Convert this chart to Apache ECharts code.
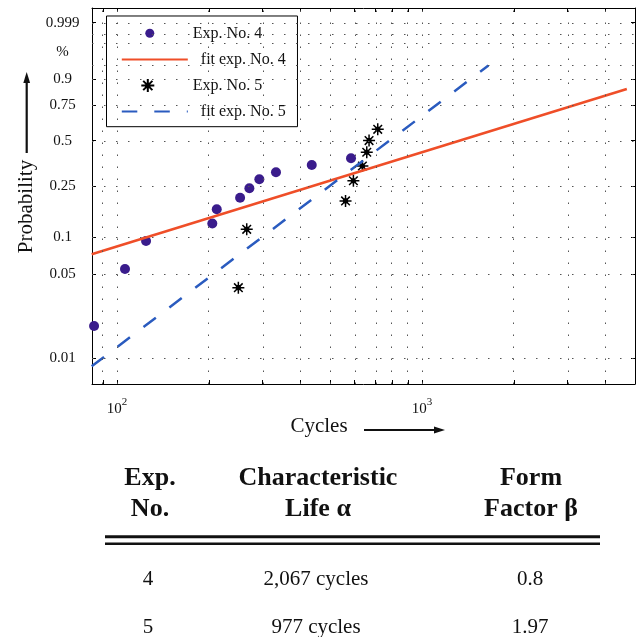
<!DOCTYPE html>
<html>
<head>
<meta charset="utf-8">
<script src="https://cdn.jsdelivr.net/npm/echarts@6/dist/echarts.min.js"></script>
<style>
  html, body { margin: 0; padding: 0; background: #ffffff; }
  #chart { width: 640px; height: 637px; }
</style>
</head>
<body>
<div id="chart"></div>
<script>
// ---------------- data ----------------
const exp4Cycles = [84.1, 106.2, 124.5, 205.3, 212.3, 253.2, 271.6, 292.8, 332.0, 434.9, 584.9];
const exp4Prob   = [0.0186, 0.0553, 0.0935, 0.129, 0.1665, 0.204, 0.240, 0.279, 0.3125, 0.351, 0.389];

const exp5Cycles = [249.9, 266.2, 561.2, 595.5, 637.3, 658.7, 670.2, 715.6];
const exp5Prob   = [0.0388, 0.116, 0.193, 0.272, 0.345, 0.425, 0.501, 0.579];

const fit4Cycles = [82.6, 4690];
const fit4Prob   = [0.073, 0.850];
const fit5Cycles = [82.6, 1650];
const fit5Prob   = [0.0085, 0.950];

const seriesNames = ['Exp. No. 4', 'fit exp. No. 4', 'Exp. No. 5', 'fit exp. No. 5'];

const xTickCycles  = [90, 100, 200, 300, 400, 500, 600, 700, 800, 900, 1000, 2000, 3000, 4000];
const xLabelCycles = [100, 1000];

const yLabelProbs  = [0.01, 0.05, 0.1, 0.25, 0.5, 0.75, 0.9, 0.98, 0.999];
const yLabelTexts  = ['0.01', '0.05', '0.1', '0.25', '0.5', '0.75', '0.9', '%', '0.999'];
const yTickProbs   = [0.01, 0.05, 0.1, 0.25, 0.5, 0.75, 0.9, 0.999];
const yGridProbs   = [0.01, 0.05, 0.1, 0.25, 0.5, 0.75, 0.9, 0.95, 0.99, 0.996, 0.999];

const tableHeaders = [['Exp.', 'No.'], ['Characteristic', 'Life \u03b1'], ['Form', 'Factor \u03b2']];
const tableExpNo   = ['4', '5'];
const tableLife    = ['2,067 cycles', '977 cycles'];
const tableForm    = ['0.8', '1.97'];

// ---------------- scales (Weibull probability paper) ----------------
const xt = c => Math.log10(c);
const yt = p => Math.log(-Math.log(1 - p));
const pairs = (xs, ys) => xs.map((x, i) => [xt(x), yt(ys[i])]);

const FONT = '"Liberation Serif", "DejaVu Serif", serif';
const X_MIN = 1.918, X_MAX = 3.698;
const Y_MIN = -5.107, Y_MAX = 2.219;

const STAR = 'path://M0,-6L0,6M-6,0L6,0M-4.3,-4.3L4.3,4.3M-4.3,4.3L4.3,-4.3M-1.8,-1.8h3.6v3.6h-3.6z';
const LEG_STAR = 'path://M6.5,0L6.5,13M0,6.5L13,6.5M1.9,1.9L11.1,11.1M1.9,11.1L11.1,1.9M4.7,4.7h3.6v3.6h-3.6zM27,13L27,13';
const LEG_CIRCLE = 'path://M0,0L0,0M23,13L23,13M2,6.5A4.5,4.5,0,1,1,11,6.5A4.5,4.5,0,1,1,2,6.5Z';

const gridStyle = { color: '#555', width: 1, type: [1.5, 10.5] };
const gridLines = xTickCycles.map(c => ({ xAxis: xt(c) }))
  .concat(yGridProbs.map(p => ({ yAxis: yt(p) })));

// ---------------- table graphics ----------------
const colX = [150, 318, 531];
const graphics = [
  { type: 'line', shape: { x1: 26.7, y1: 153, x2: 26.7, y2: 82 }, style: { stroke: '#111', lineWidth: 2.2 } },
  { type: 'polygon', shape: { points: [[26.7, 72], [23.3, 83], [30.1, 83]] }, style: { fill: '#111' } },
  { type: 'line', shape: { x1: 364, y1: 430, x2: 434, y2: 430 }, style: { stroke: '#111', lineWidth: 2.2 } },
  { type: 'polygon', shape: { points: [[445, 430], [434, 426.6], [434, 433.4]] }, style: { fill: '#111' } },
  { type: 'line', shape: { x1: 105, y1: 536.7, x2: 600, y2: 536.7 }, style: { stroke: '#111', lineWidth: 3 } },
  { type: 'line', shape: { x1: 105, y1: 543.7, x2: 600, y2: 543.7 }, style: { stroke: '#111', lineWidth: 2.5 } }
];
const headerY = [478.5, 509.5];
tableHeaders.forEach((lines, c) => {
  lines.forEach((t, r) => {
    graphics.push({ type: 'text', x: colX[c], y: headerY[r],
      style: { text: t, fontFamily: FONT, fontSize: 26, fontWeight: 'bold', fill: '#111', align: 'center', verticalAlign: 'middle' } });
  });
});
const rowY = [579.6, 627.9];
const valX = [148, 316, 530];
[tableExpNo, tableLife, tableForm].forEach((col, c) => {
  col.forEach((t, r) => {
    graphics.push({ type: 'text', x: valX[c], y: rowY[r],
      style: { text: t, fontFamily: FONT, fontSize: 21, fill: '#111', align: 'center', verticalAlign: 'middle' } });
  });
});

// ---------------- chart ----------------
const chart = echarts.init(document.getElementById('chart'), null, { renderer: 'canvas' });
const axisLineStyle = { show: true, onZero: false, lineStyle: { color: '#000', width: 1 } };

chart.setOption({
  animation: false,
  backgroundColor: '#ffffff',
  textStyle: { fontFamily: FONT },
  grid: { left: 92, right: 5, top: 8, bottom: 253, containLabel: false, outerBoundsMode: 'none' },
  xAxis: [
    {
      type: 'value', position: 'bottom', min: X_MIN, max: X_MAX,
      axisLine: axisLineStyle,
      axisTick: { show: true, inside: true, length: 4, lineStyle: { color: '#000' }, customValues: xTickCycles.map(xt) },
      axisLabel: {
        show: true, margin: 12.6, customValues: xLabelCycles.map(xt),
        formatter: v => '{b|10}{s|' + Math.round(v) + '}',
        rich: {
          b: { fontFamily: FONT, fontSize: 15, color: '#111', lineHeight: 20, verticalAlign: 'bottom' },
          s: { fontFamily: FONT, fontSize: 11, color: '#111', lineHeight: 8, verticalAlign: 'top' }
        }
      },
      splitLine: { show: false },
      name: 'Cycles', nameLocation: 'middle', nameGap: 31.7, nameMoveOverlap: false,
      nameTextStyle: { fontFamily: FONT, fontSize: 21, color: '#111', lineHeight: 21, padding: [0, 89, 0, 0] }
    },
    {
      type: 'value', position: 'top', min: X_MIN, max: X_MAX,
      axisLine: axisLineStyle,
      axisTick: { show: true, inside: true, length: 4, lineStyle: { color: '#000' }, customValues: xTickCycles.map(xt) },
      axisLabel: { show: false },
      splitLine: { show: false }
    }
  ],
  yAxis: [
    {
      type: 'value', position: 'left', min: Y_MIN, max: Y_MAX,
      axisLine: axisLineStyle,
      axisTick: { show: true, inside: true, length: 4, lineStyle: { color: '#000' }, customValues: yTickProbs.map(yt) },
      axisLabel: {
        show: true, margin: 29.5, align: 'center', customValues: yLabelProbs.map(yt),
        fontFamily: FONT, fontSize: 15, color: '#111',
        formatter: function (v) {
          let best = 0, d = Infinity;
          yLabelProbs.forEach((p, i) => { const dd = Math.abs(yt(p) - v); if (dd < d) { d = dd; best = i; } });
          return yLabelTexts[best];
        }
      },
      splitLine: { show: false },
      name: 'Probability', nameLocation: 'middle', nameGap: 55.3, nameMoveOverlap: false,
      nameTextStyle: { fontFamily: FONT, fontSize: 21, color: '#111', lineHeight: 21, padding: [0, 21, 0, 0] }
    },
    {
      type: 'value', position: 'right', min: Y_MIN, max: Y_MAX,
      axisLine: axisLineStyle,
      axisTick: { show: true, inside: true, length: 4, lineStyle: { color: '#000' }, customValues: yTickProbs.map(yt) },
      axisLabel: { show: false },
      splitLine: { show: false }
    }
  ],
  legend: {
    orient: 'vertical', left: 106.5, top: 16,
    padding: [9.3, 11.8, 7.1, 14.3],
    itemWidth: 66, itemHeight: 13, itemGap: 10.1,
    backgroundColor: '#ffffff', borderColor: '#000', borderWidth: 1, borderRadius: 0,
    selectedMode: false,
    textStyle: { fontFamily: FONT, fontSize: 16, color: '#111', lineHeight: 13 },
    data: [
      { name: seriesNames[0], icon: LEG_CIRCLE },
      { name: seriesNames[1], itemStyle: { opacity: 0 }, textStyle: { padding: [0, 0, 0, 8] } },
      { name: seriesNames[2], icon: LEG_STAR },
      { name: seriesNames[3], itemStyle: { opacity: 0 }, textStyle: { padding: [0, 0, 0, 8] } }
    ]
  },
  graphic: graphics,
  series: [
    {
      name: seriesNames[0], type: 'scatter', xAxisIndex: 0, yAxisIndex: 0,
      data: pairs(exp4Cycles, exp4Prob),
      symbol: 'circle', symbolSize: 10,
      itemStyle: { color: '#3a1c8c', opacity: 1 },
      markLine: {
        silent: true, symbol: ['none', 'none'], label: { show: false },
        lineStyle: gridStyle, emphasis: { disabled: true },
        data: gridLines
      }
    },
    {
      name: seriesNames[1], type: 'line', xAxisIndex: 0, yAxisIndex: 0,
      data: pairs(fit4Cycles, fit4Prob),
      symbol: 'none', showSymbol: false,
      lineStyle: { color: '#ef4e28', width: 2.5, type: 'solid' },
      itemStyle: { color: '#ef4e28' }
    },
    {
      name: seriesNames[2], type: 'scatter', xAxisIndex: 0, yAxisIndex: 0,
      data: pairs(exp5Cycles, exp5Prob),
      symbol: STAR, symbolSize: 12,
      itemStyle: { color: '#000', borderColor: '#000', borderWidth: 1.5, opacity: 1 }
    },
    {
      name: seriesNames[3], type: 'line', xAxisIndex: 0, yAxisIndex: 0,
      data: pairs(fit5Cycles, fit5Prob),
      symbol: 'none', showSymbol: false,
      lineStyle: { color: '#2a5bbf', width: 2.5, type: [15.5, 17] },
      itemStyle: { color: '#2a5bbf' }
    }
  ]
});
</script>
</body>
</html>
